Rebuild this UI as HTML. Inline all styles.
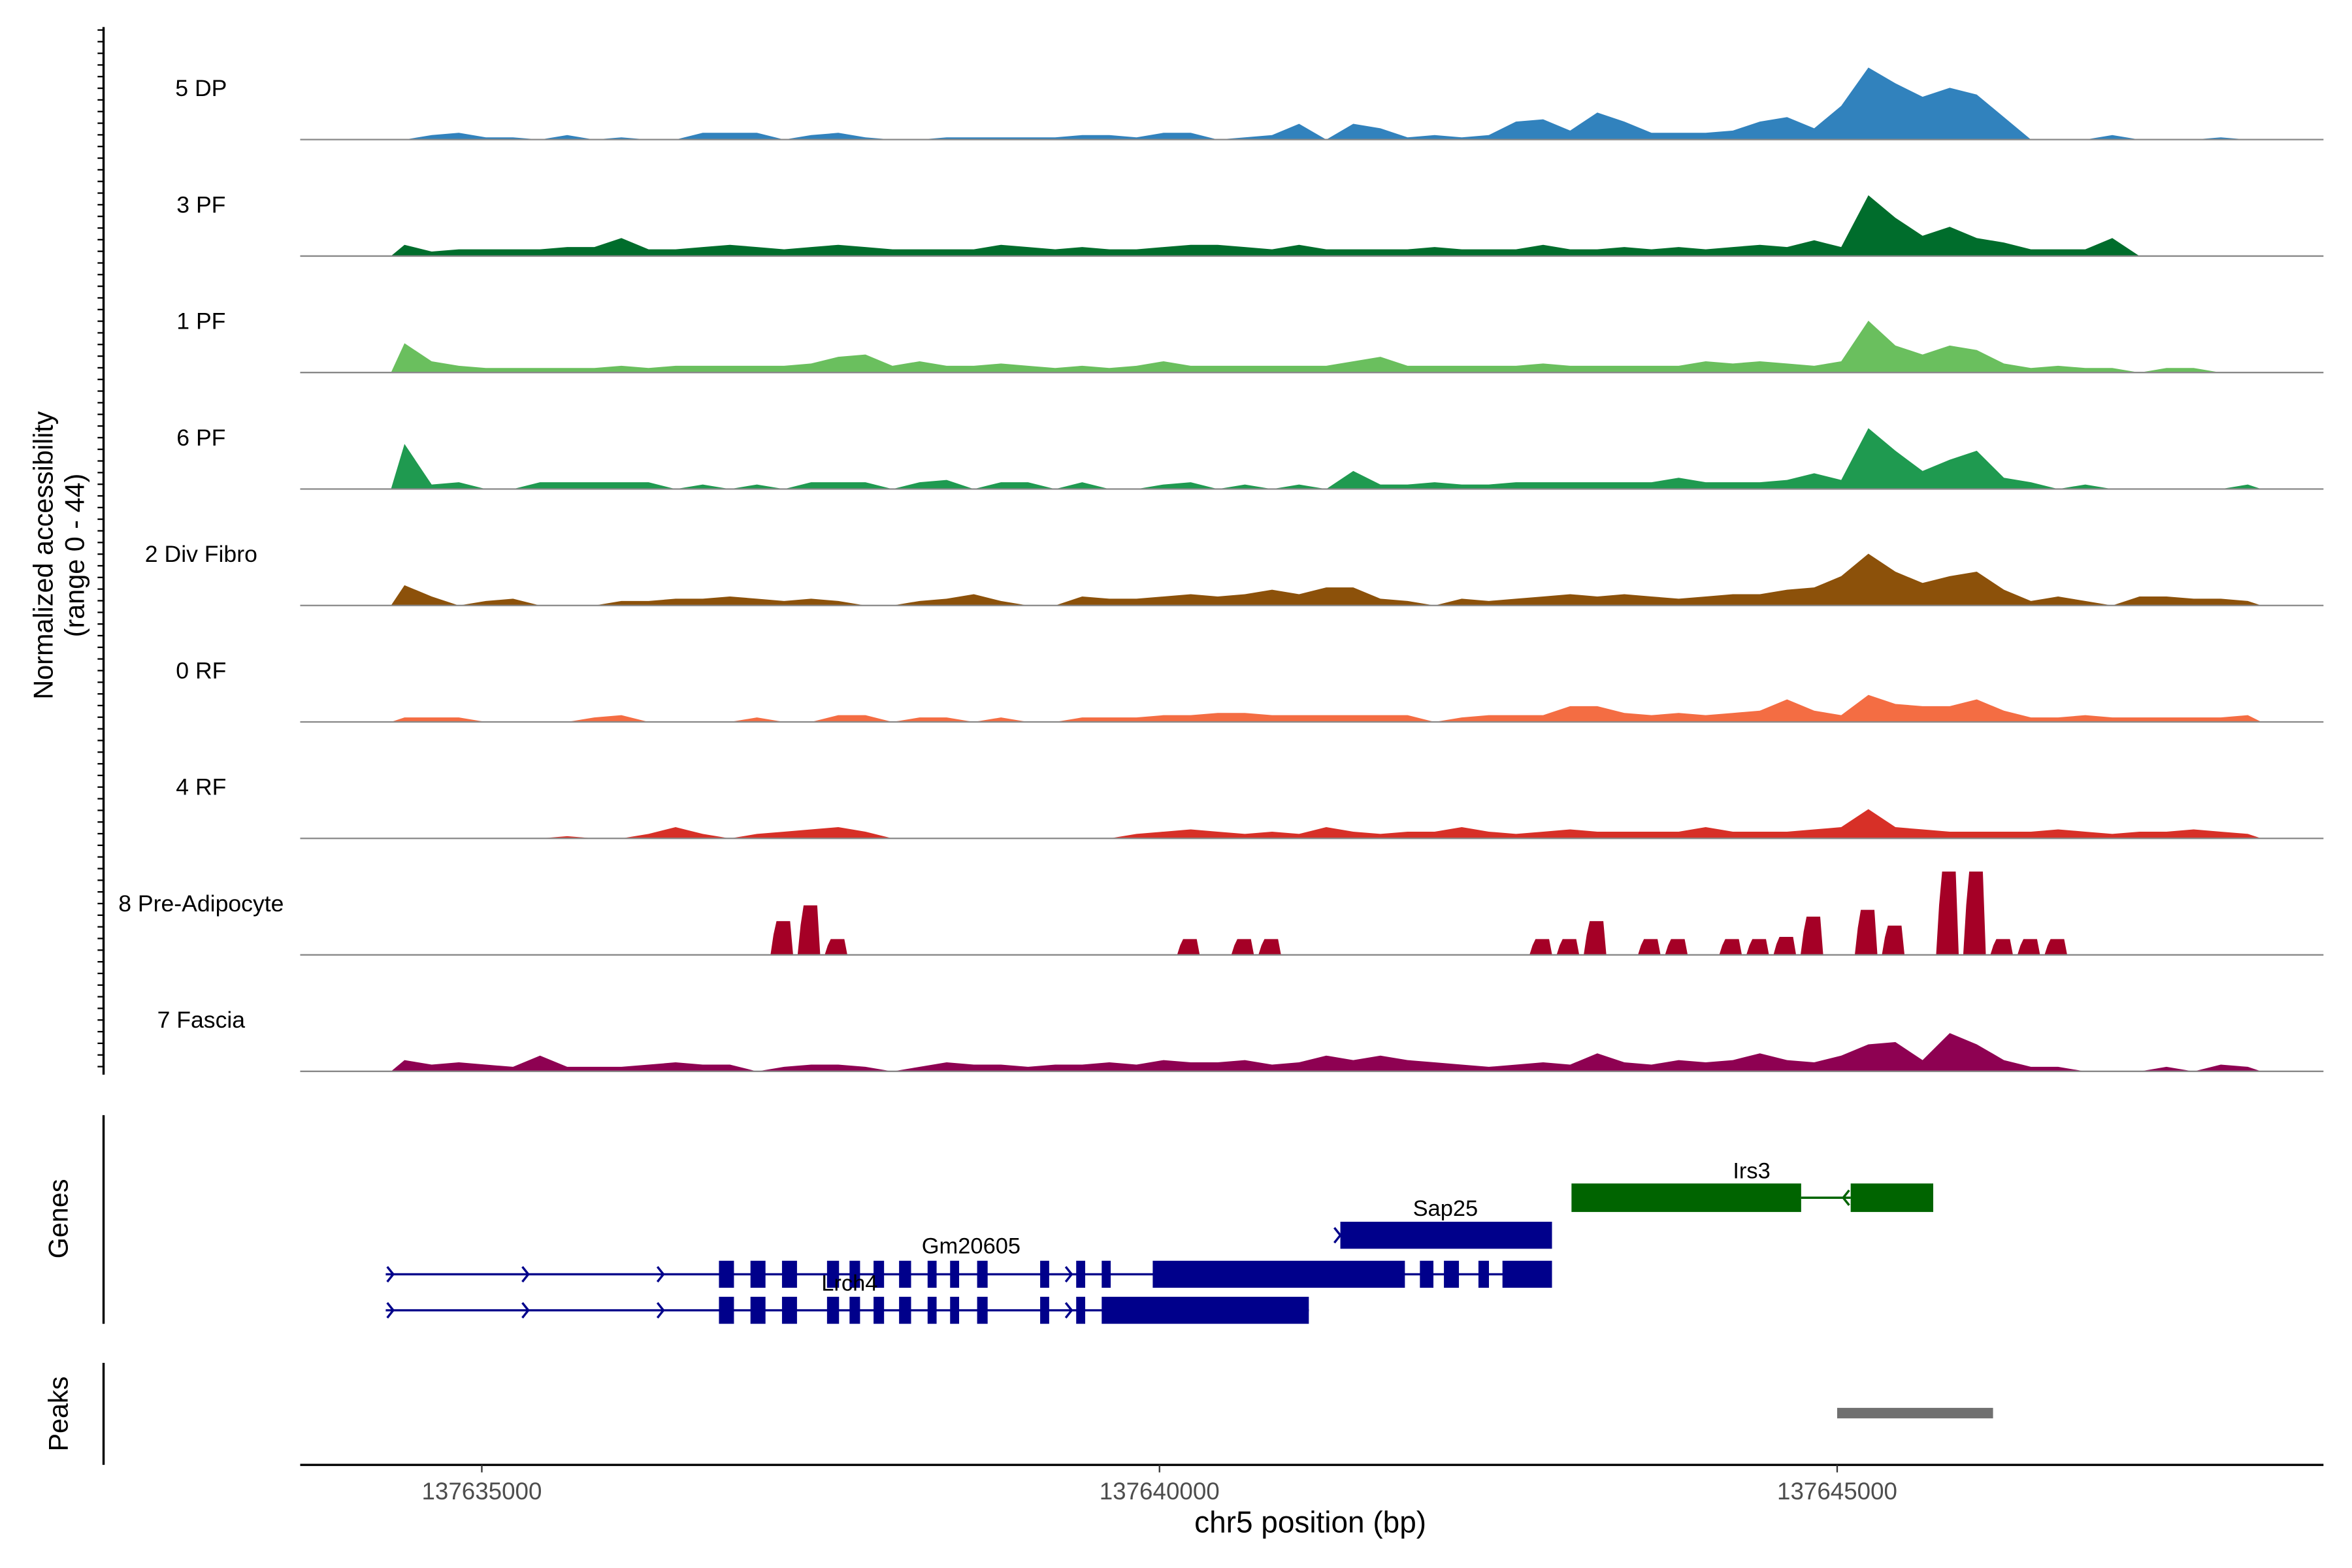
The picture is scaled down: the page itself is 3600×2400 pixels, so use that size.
<!DOCTYPE html>
<html><head><meta charset="utf-8">
<style>
html,body{margin:0;padding:0;background:#fff;}
svg{display:block;font-family:"Liberation Sans",Arial,sans-serif;}
</style></head>
<body>
<svg id="chart" width="3600" height="2400" viewBox="0 0 1567 1044.7" preserveAspectRatio="none" xmlns="http://www.w3.org/2000/svg">
<rect x="0" y="0" width="1567" height="1045" fill="#fff"/>
<g id="tracks"></g>
<g id="left-axis"></g>
<text transform="translate(35,370) rotate(-90)" text-anchor="middle" font-size="18" fill="#000">Normalized accessibility</text>
<text transform="translate(56,370) rotate(-90)" text-anchor="middle" font-size="18" fill="#000">(range 0 - 44)</text>

<g>
<line x1="69" y1="743" x2="69" y2="882" stroke="#000" stroke-width="1.5"/>
<text transform="translate(45,812) rotate(-90)" text-anchor="middle" font-size="18">Genes</text>
<g id="genes"></g>
</g>
<g>
<line x1="69" y1="908" x2="69" y2="976" stroke="#000" stroke-width="1.5"/>
<text transform="translate(45,942) rotate(-90)" text-anchor="middle" font-size="18">Peaks</text>
<g id="peaks"></g>
</g>
<g id="xaxis">
<line x1="200" y1="976" x2="1548" y2="976" stroke="#000" stroke-width="1.5"/>
</g>
<text x="873" y="1021" text-anchor="middle" font-size="20">chr5 position (bp)</text>
</svg>
<script>
const NS="http://www.w3.org/2000/svg";
const binStart=137634330, binSize=200;
const xTicks=[137635000,137640000,137645000];
const trackNames=["5 DP","3 PF","1 PF","6 PF","2 Div Fibro","0 RF","4 RF","8 Pre-Adipocyte","7 Fascia"];
const trackColors=["#3182bd","#006d2c","#6abf5e","#1f9a50","#8c510a","#f46d43","#d73027","#a50026","#8e0152"];
const dp5=[0,2,3,1,1,0,2,0,1,0,0,3,3,3,0,2,3,1,0,0,1,1,1,1,1,2,2,1,3,3,0,1,2,7,0,7,5,1,2,1,2,8,9,4,12,8,3,3,3,4,8,10,5,15,32,25,19,23,20,10,0,0,0,2,0,0,0,1,0];
const pf3=[5,2,3,3,3,3,4,4,8,3,3,4,5,4,3,4,5,4,3,3,3,3,5,4,3,4,3,3,4,5,5,4,3,5,3,3,3,3,4,3,3,3,5,3,3,4,3,4,3,4,5,4,7,4,27,17,9,13,8,6,3,3,3,8,0,0,0,0,0];
const pf1=[13,5,3,2,2,2,2,2,3,2,3,3,3,3,3,4,7,8,3,5,3,3,4,3,2,3,2,3,5,3,3,3,3,3,3,5,7,3,3,3,3,3,4,3,3,3,3,3,5,4,5,4,3,5,23,12,8,12,10,4,2,3,2,2,0,2,2,0,0];
const pf6=[20,2,3,0,0,3,3,3,3,3,0,2,0,2,0,3,3,3,0,3,4,0,3,3,0,3,0,0,2,3,0,2,0,2,0,8,2,2,3,2,2,3,3,3,3,3,3,5,3,3,3,4,7,4,27,17,8,13,17,5,3,0,2,0,0,0,0,0,2];
const divFibro2=[9,4,0,2,3,0,0,0,2,2,3,3,4,3,2,3,2,0,0,2,3,5,2,0,0,4,3,3,4,5,4,5,7,5,8,8,3,2,0,3,2,3,4,5,4,5,4,3,4,5,5,7,8,13,23,15,10,13,15,7,2,4,2,0,4,4,3,3,2];
const rf0=[2,2,2,0,0,0,0,2,3,0,0,0,0,2,0,0,3,3,0,2,2,0,2,0,0,2,2,2,3,3,4,4,3,3,3,3,3,3,0,2,3,3,3,7,7,4,3,4,3,4,5,10,5,3,12,8,7,7,10,5,2,2,3,2,2,2,2,2,3];
const rf4=[0,0,0,0,0,0,1,0,0,2,5,2,0,2,3,4,5,3,0,0,0,0,0,0,0,0,0,2,3,4,3,2,3,2,5,3,2,3,3,5,3,2,3,4,3,3,3,3,5,3,3,3,4,5,13,5,4,3,3,3,3,4,3,2,3,3,4,3,2];
const preAdipo8=[0,0,0,0,0,0,0,0,0,0,0,0,0,0,15,22,7,0,0,0,0,0,0,0,0,0,0,0,0,7,0,7,7,0,0,0,0,0,0,0,0,0,7,7,15,0,7,7,0,7,7,8,17,0,20,13,0,37,37,7,7,7,0,0,0,0,0,0,0];
const fascia7=[5,3,4,3,2,7,2,2,2,3,4,3,3,0,2,3,3,2,0,2,4,3,3,2,3,3,4,3,5,4,4,5,3,4,7,5,7,5,4,3,2,3,4,3,8,4,3,5,4,5,8,5,4,7,12,13,5,17,12,5,2,2,0,0,0,2,0,3,2];
const trackValues=[dp5,pf3,pf1,pf6,divFibro2,rf0,rf4,preAdipo8,fascia7];
const peakStarts=[137645000];
const peakEnds=[137646150];

const X0=200,X1=1548,BP0=137633660,BP1=137648588;
function xs(bp){return X0+(bp-BP0)/(BP1-BP0)*(X1-X0);}
const base0=93, trackStep=77.6, pxPerUnit=1.5;
function ys(v,t){return base0+t*trackStep-v*pxPerUnit;}
function mk(tag,attrs,parent){const e=document.createElementNS(NS,tag);for(const k in attrs)e.setAttribute(k,attrs[k]);parent.appendChild(e);return e;}

const tracks=document.getElementById('tracks');
trackValues.forEach((vals,t)=>{
  const g=mk('g',{},tracks);
  
  
  const b=ys(0,t);
  let d='';
  if(t===7){
    vals.forEach((v,i)=>{if(v<=0)return;const a=xs(binStart+i*binSize),c=xs(binStart+(i+1)*binSize)-3;d+=`M${a},${b}L${a+2},${ys(v*0.6,t)}L${a+4},${ys(v,t)}L${c-2},${ys(v,t)}L${c},${b}Z`;});
  } else {
    d=`M${xs(binStart)},${b}`;
    vals.forEach((v,i)=>{d+=`L${xs(binStart+i*binSize+binSize/2).toFixed(1)},${ys(v,t).toFixed(1)}`;});
    d+=`L${xs(binStart+vals.length*binSize)},${b}Z`;
  }
  const p=mk('path',{d:d,fill:trackColors[t]},g);
  
  
  const ln=mk('line',{x1:X0,x2:X1,y1:b,y2:b,stroke:'#888','stroke-width':1},g);
  
  
  const tx=mk('text',{x:134,y:b-29,'text-anchor':'middle','font-size':15.5},g);
  tx.textContent=trackNames[t];
  
  
});

const la=document.getElementById('left-axis');
mk('line',{x1:69,y1:18,x2:69,y2:716,stroke:'#000','stroke-width':1.5},la);
for(let y=20;y<=716;y+=7.76){mk('line',{x1:65,y1:y,x2:69,y2:y,stroke:'#000','stroke-width':1},la);}

const genes=document.getElementById('genes');
const navy='#00008b', green='#006400';
function rect(x1,x2,yc,h,col){mk('rect',{x:x1,y:yc-h/2,width:x2-x1,height:h,fill:col},genes);}
function arrow(x,yc,col,dir){const s=dir>0?`M${x-4},${yc-5}L${x},${yc}L${x-4},${yc+5}`:`M${x+4},${yc-5}L${x},${yc}L${x+4},${yc+5}`;mk('path',{d:s,stroke:col,fill:'none','stroke-width':1.5},genes);}
function label(x,y,t){const e=mk('text',{x:x,y:y,'text-anchor':'middle','font-size':15},genes);e.textContent=t;}
mk('line',{x1:1200,y1:798,x2:1233,y2:798,stroke:green,'stroke-width':1.5},genes);
rect(1047,1200,798,19,green);rect(1233,1288,798,19,green);arrow(1228,798,green,-1);
label(1167,785,'Irs3');
rect(893,1034,823,18,navy);arrow(893,823,navy,1);label(963,810,'Sap25');
const exonsA=[[479,489],[500,510],[521,531],[551,559],[566,573],[582,589],[599,607],[618,624],[633,639],[651,658],[693,699],[717,723],[734,740]];
mk('line',{x1:257,y1:849,x2:1034,y2:849,stroke:navy,'stroke-width':1.5},genes);
exonsA.forEach(e=>rect(e[0],e[1],849,18,navy));
[[768,936],[946,955],[962,972],[985,992],[1001,1034]].forEach(e=>rect(e[0],e[1],849,18,navy));
[262,352,442,714,990].forEach(x=>arrow(x,849,navy,1));
label(647,835,'Gm20605');
mk('line',{x1:257,y1:873,x2:872,y2:873,stroke:navy,'stroke-width':1.5},genes);
exonsA.slice(0,12).forEach(e=>rect(e[0],e[1],873,18,navy));
rect(734,872,873,18,navy);
[262,352,442,714].forEach(x=>arrow(x,873,navy,1));
label(566,860,'Lrch4');

const peaks=document.getElementById('peaks');
peakStarts.forEach((s,i)=>{const r=mk('rect',{x:xs(s),y:938,width:xs(peakEnds[i])-xs(s),height:7,fill:'#707070'},peaks);

});

const xa=document.getElementById('xaxis');
xTicks.forEach(v=>{const x=xs(v);mk('line',{x1:x,x2:x,y1:976,y2:981,stroke:'#333'},xa);
const t=mk('text',{x:x,y:999,'text-anchor':'middle','font-size':16,fill:'#4d4d4d'},xa);t.textContent=String(v);

});
</script>
</body></html>
